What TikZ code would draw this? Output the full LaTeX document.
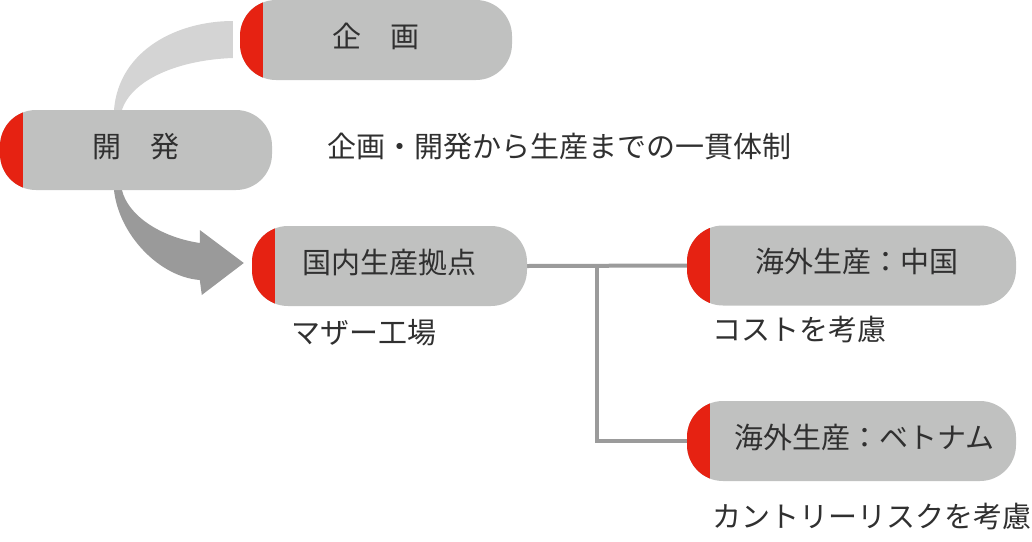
\documentclass[tikz,border=0pt]{standalone}
\usepackage{fontspec}
\setmainfont{Noto Sans CJK JP}
\usetikzlibrary{calc,backgrounds}

\definecolor{boxgray}{HTML}{C0C1C0}
\definecolor{capred}{HTML}{E62212}
\definecolor{bandlight}{HTML}{D4D4D4}
\definecolor{banddark}{HTML}{9A9A9A}
\definecolor{linegray}{HTML}{9B9B9B}
\definecolor{textdark}{HTML}{303030}

\begin{document}
\begin{tikzpicture}[x=1pt, y=-1pt,
        stagebox/.style={fill=boxgray, rounded corners=36pt, minimum height=80pt, inner sep=0pt,
            text=textdark, text height=25pt, text depth=11pt, font=\fontsize{29pt}{34pt}\selectfont,
            path picture={\fill[capred, sharp corners] (path picture bounding box.south west) rectangle ([xshift=23pt]path picture bounding box.north west);}},
        note/.style={anchor=west, inner sep=0pt, text=textdark, text height=25pt, text depth=4pt,
            font=\fontsize{29pt}{34pt}\selectfont}]
        \useasboundingbox (0,0) rectangle (1032,541);

        \node[stagebox, minimum width=272pt] (kikaku) at (376,40) {企　画};
        \node[stagebox, minimum width=272pt] (kaihatsu) at (136,150) {開　発};
        \node[stagebox, minimum width=275pt] (kokunai) at (389.5,266) {国内生産拠点};
        \node[stagebox, minimum width=329pt] (china) at (851.5,265.5) {\hspace*{10pt}海外生産：中国};
        \node[stagebox, minimum width=329pt] (vietnam) at (851.5,441) {\hspace*{26pt}海外生産：ベトナム};

        \node[note] (slogan) at (327,147) {企画・開発から生産までの一貫体制};
        \node[note] (mother) at (291,333) {マザー工場};
        \node[note] (cost) at (712,330) {コストを考慮};
        \node[note] (risk) at (712,517) {カントリーリスクを考慮};

        \begin{scope}[on background layer]
            \fill[bandlight] ($(kaihatsu.north)+(-22,0)$) .. controls +(5,-60) and +(-55,0) .. ($(kikaku.west)+(-7,-19)$)
                -- ($(kikaku.west)+(-7,18)$) .. controls +(-55,2) and +(10,-30) .. ($(kaihatsu.north)+(-14,0)$) -- cycle;

            \fill[banddark] ($(kaihatsu.south)+(-22,0)$) .. controls +(5,45) and +(-40,-3) .. ($(kokunai.west)+(-52,14)$)
                -- ($(kokunai.west)+(-50,29)$) -- ($(kokunai.west)+(-8,-3)$) -- ($(kokunai.west)+(-52,-36)$)
                -- ($(kokunai.west)+(-52,-23)$) .. controls +(-40,-6) and +(6,25) .. ($(kaihatsu.south)+(-14,0)$) -- cycle;

            \draw[linegray, line width=4pt] (kokunai.east) -- (china.west);
            \draw[linegray, line width=4pt] ($(kokunai.east)!0.44!(china.west)$) |- (vietnam.west);
        \end{scope}
    \end{tikzpicture}
\end{document}
